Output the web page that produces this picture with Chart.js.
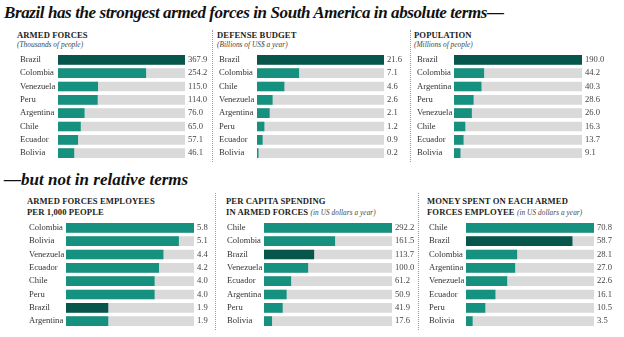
<!DOCTYPE html>
<html>
<head>
<meta charset="utf-8">
<script src="https://cdn.jsdelivr.net/npm/chart.js@4.4.1/dist/chart.umd.min.js"></script>
<style>
  html, body { margin: 0; padding: 0; background: #ffffff; }
  body { width: 624px; height: 337px; position: relative; overflow: hidden; font-family: "Liberation Serif", serif; color: #1a1a1a; }
  .headline { position: absolute; font-weight: bold; font-style: italic; font-size: 17px; white-space: nowrap; color: #111; }
  .ptitle { position: absolute; font-weight: bold; font-size: 8.6px; line-height: 11px; white-space: nowrap; color: #222; letter-spacing: 0.1px; }
  .psub { position: absolute; font-style: italic; font-size: 7.4px; white-space: nowrap; color: #444; }
  .inl { font-weight: normal; font-style: italic; font-size: 7.2px; color: #444; }
  .sep { position: absolute; width: 0; border-left: 1px dotted #9a9a9a; }
  canvas { position: absolute; }
</style>
</head>
<body>
<div class="headline" style="left:4px; top:3px; letter-spacing:-0.4px;">Brazil has the strongest armed forces in South America in absolute terms—</div>
<div class="headline" style="left:4px; top:170px;">—but not in relative terms</div>

<div class="ptitle" style="left:17px; top:30px;">ARMED FORCES</div>
<div class="psub" style="left:17px; top:40px;">(Thousands of people)</div>
<div class="ptitle" style="left:217px; top:30px;">DEFENSE BUDGET</div>
<div class="psub" style="left:217px; top:40px;">(Billions of US$ a year)</div>
<div class="ptitle" style="left:414px; top:30px;">POPULATION</div>
<div class="psub" style="left:414px; top:40px;">(Millions of people)</div>

<div class="ptitle" style="left:27px; top:196px;">ARMED FORCES EMPLOYEES<br>PER 1,000 PEOPLE</div>
<div class="ptitle" style="left:226px; top:196px;">PER CAPITA SPENDING<br>IN ARMED FORCES <span class="inl">(in US dollars a year)</span></div>
<div class="ptitle" style="left:427px; top:196px;">MONEY SPENT ON EACH ARMED<br>FORCES EMPLOYEE <span class="inl">(in US dollars a year)</span></div>

<div class="sep" style="left:212px; top:30px; height:132px;"></div>
<div class="sep" style="left:410px; top:30px; height:132px;"></div>
<div class="sep" style="left:215px; top:193px; height:137px;"></div>
<div class="sep" style="left:418px; top:193px; height:137px;"></div>

<canvas id="c1" width="190" height="123" style="left:20px; top:45px;"></canvas>
<canvas id="c2" width="191" height="123" style="left:219px; top:45px;"></canvas>
<canvas id="c3" width="207" height="123" style="left:417px; top:45px;"></canvas>
<canvas id="c4" width="186" height="123" style="left:29px; top:213px;"></canvas>
<canvas id="c5" width="191" height="123" style="left:227px; top:213px;"></canvas>
<canvas id="c6" width="195" height="123" style="left:429px; top:213px;"></canvas>

<script>
// ---- Data ----
const armedCountries = ["Brazil","Colombia","Venezuela","Peru","Argentina","Chile","Ecuador","Bolivia"];
const armedValues    = [367.9, 254.2, 115.0, 114.0, 76.0, 65.0, 57.1, 46.1];

const budgetCountries = ["Brazil","Colombia","Chile","Venezuela","Argentina","Peru","Ecuador","Bolivia"];
const budgetValues    = [21.6, 7.1, 4.6, 2.6, 2.1, 1.2, 0.9, 0.2];

const popCountries = ["Brazil","Colombia","Argentina","Peru","Venezuela","Chile","Ecuador","Bolivia"];
const popValues    = [190.0, 44.2, 40.3, 28.6, 26.0, 16.3, 13.7, 9.1];

const perThousandCountries = ["Colombia","Bolivia","Venezuela","Ecuador","Chile","Peru","Brazil","Argentina"];
const perThousandValues    = [5.8, 5.1, 4.4, 4.2, 4.0, 4.0, 1.9, 1.9];

const perCapitaCountries = ["Chile","Colombia","Brazil","Venezuela","Ecuador","Argentina","Peru","Bolivia"];
const perCapitaValues    = [292.2, 161.5, 113.7, 100.0, 61.2, 50.9, 41.9, 17.6];

const perEmployeeCountries = ["Chile","Brazil","Colombia","Argentina","Venezuela","Ecuador","Peru","Bolivia"];
const perEmployeeValues    = [70.8, 58.7, 28.1, 27.0, 22.6, 16.1, 10.5, 3.5];

const highlightCountry = "Brazil";

// ---- Styling ----
const TEAL = "#17917f";
const DARK = "#06564b";
const GREY = "#dadada";

Chart.defaults.font.family = '"Liberation Serif", "Times New Roman", serif';
Chart.defaults.animation = false;

function makePanel(id, countries, values, yWidth, y2Width) {
  const max = Math.max(...values);
  new Chart(document.getElementById(id), {
    type: "bar",
    data: {
      labels: countries,
      datasets: [
        {
          data: values,
          backgroundColor: countries.map(c => c === highlightCountry ? DARK : TEAL),
          barThickness: 9,
          grouped: false,
          order: 0
        },
        {
          data: countries.map(() => max),
          backgroundColor: GREY,
          barThickness: 9,
          grouped: false,
          order: 1
        }
      ]
    },
    options: {
      indexAxis: "y",
      responsive: false,
      devicePixelRatio: 1,
      animation: false,
      layout: { padding: 0 },
      plugins: { legend: { display: false }, tooltip: { enabled: false } },
      scales: {
        x: { display: false, min: 0, max: max },
        y: {
          type: "category",
          offset: true,
          position: "left",
          grid: { display: false, drawTicks: false },
          border: { display: false },
          ticks: { autoSkip: false, crossAlign: "far", padding: 0, color: "#333", font: { size: 8.6 } },
          afterFit(scale) { scale.width = yWidth; }
        },
        y2: {
          type: "category",
          labels: values.map(v => v.toFixed(1)),
          offset: true,
          position: "right",
          grid: { display: false, drawTicks: false },
          border: { display: false },
          ticks: { autoSkip: false, crossAlign: "near", padding: 3, color: "#444", font: { size: 8.6 } },
          afterFit(scale) { scale.width = y2Width; }
        }
      }
    }
  });
}

makePanel("c1", armedCountries, armedValues, 38, 25);
makePanel("c2", budgetCountries, budgetValues, 38, 26);
makePanel("c3", popCountries, popValues, 37, 42);
makePanel("c4", perThousandCountries, perThousandValues, 37, 21);
makePanel("c5", perCapitaCountries, perCapitaValues, 37, 26);
makePanel("c6", perEmployeeCountries, perEmployeeValues, 37, 30);
</script>
</body>
</html>
